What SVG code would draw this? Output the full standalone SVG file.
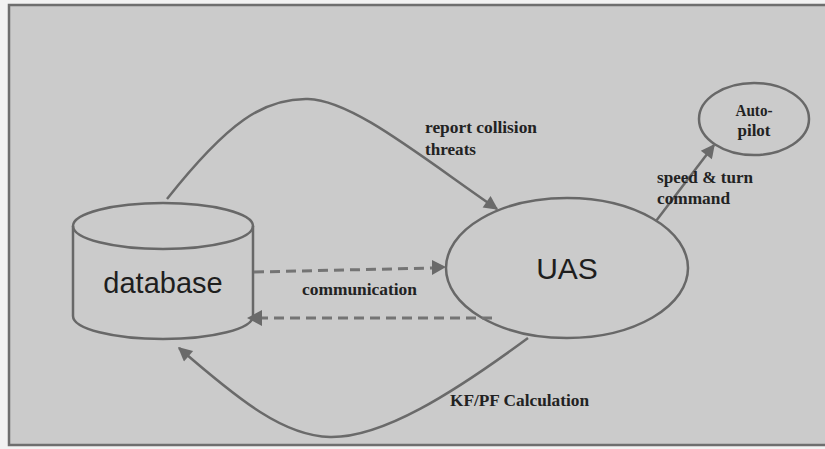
<svg xmlns="http://www.w3.org/2000/svg" width="825" height="449" viewBox="0 0 825 449">
  <defs>
    <style>
      .shape { fill: none; stroke: #686868; stroke-width: 2.5; }
      .conn { fill: none; stroke: #6a6a6a; stroke-width: 2.5; }
      .dash { fill: none; stroke: #747474; stroke-width: 3; stroke-dasharray: 10 6; }
      .big { font-family: "Liberation Sans", Arial, sans-serif; fill: #1e1e1e; }
      .lbl { font-family: "Liberation Serif", "Times New Roman", serif; font-weight: bold; font-size: 16px; fill: #222222; }
    </style>
    <marker id="ah2" viewBox="0 0 10 10" refX="9" refY="5" markerWidth="16" markerHeight="14" markerUnits="userSpaceOnUse" orient="auto">
      <path d="M0,0 L10,5 L0,10 z" fill="#6a6a6a"/>
    </marker>
  </defs>

  <rect x="0" y="0" width="825" height="449" fill="#f2f2f2"/>
  <rect x="9" y="5" width="830" height="440" fill="#cbcbcb" stroke="#6e6e6e" stroke-width="2.5"/>

  <g id="database">
    <path class="shape" d="M73,226 L73,316 A90,23 0 0 0 253,316 L253,226"/>
    <ellipse class="shape" cx="163" cy="226" rx="90" ry="23"/>
    <text class="big" x="163" y="293" font-size="29" text-anchor="middle">database</text>
  </g>

  <g id="uas">
    <ellipse class="shape" cx="567" cy="268" rx="121" ry="70"/>
    <text class="big" x="567" y="279" font-size="30" text-anchor="middle">UAS</text>
  </g>

  <g id="autopilot">
    <ellipse class="shape" cx="754" cy="119" rx="55" ry="36"/>
    <text class="lbl" x="754" y="116" text-anchor="middle" font-size="14" textLength="37" lengthAdjust="spacingAndGlyphs">Auto-</text>
    <text class="lbl" x="754" y="136" text-anchor="middle" font-size="14" textLength="33" lengthAdjust="spacingAndGlyphs">pilot</text>
  </g>

  <g id="connectors">
    <path class="conn" d="M167,199 C228,122 264,98 308,99 C352,100 420,156 497,209" marker-end="url(#ah2)"/>
    <path class="conn" d="M656,221 L714,145" marker-end="url(#ah2)"/>
    <path class="dash" d="M254,272 L433,268"/>
    <path d="M432,260 L446,267 L432,275 z" fill="#6a6a6a"/>
    <path class="dash" d="M492,318 L262,318"/>
    <path d="M262,310 L247,318 L262,326 z" fill="#6a6a6a"/>
    <path class="conn" d="M528,338 C452,394 382,438 330,437 C284,436 240,401 179,348" marker-end="url(#ah2)"/>
  </g>

  <g id="labels">
    <text class="lbl" x="425" y="133" textLength="112" lengthAdjust="spacingAndGlyphs">report collision</text>
    <text class="lbl" x="425" y="155" textLength="51" lengthAdjust="spacingAndGlyphs">threats</text>
    <text class="lbl" x="657" y="183" textLength="96" lengthAdjust="spacingAndGlyphs">speed &amp; turn</text>
    <text class="lbl" x="657" y="204" textLength="73" lengthAdjust="spacingAndGlyphs">command</text>
    <text class="lbl" x="302" y="295" textLength="115" lengthAdjust="spacingAndGlyphs">communication</text>
    <text class="lbl" x="450" y="406" textLength="139" lengthAdjust="spacingAndGlyphs">KF/PF Calculation</text>
  </g>
</svg>
